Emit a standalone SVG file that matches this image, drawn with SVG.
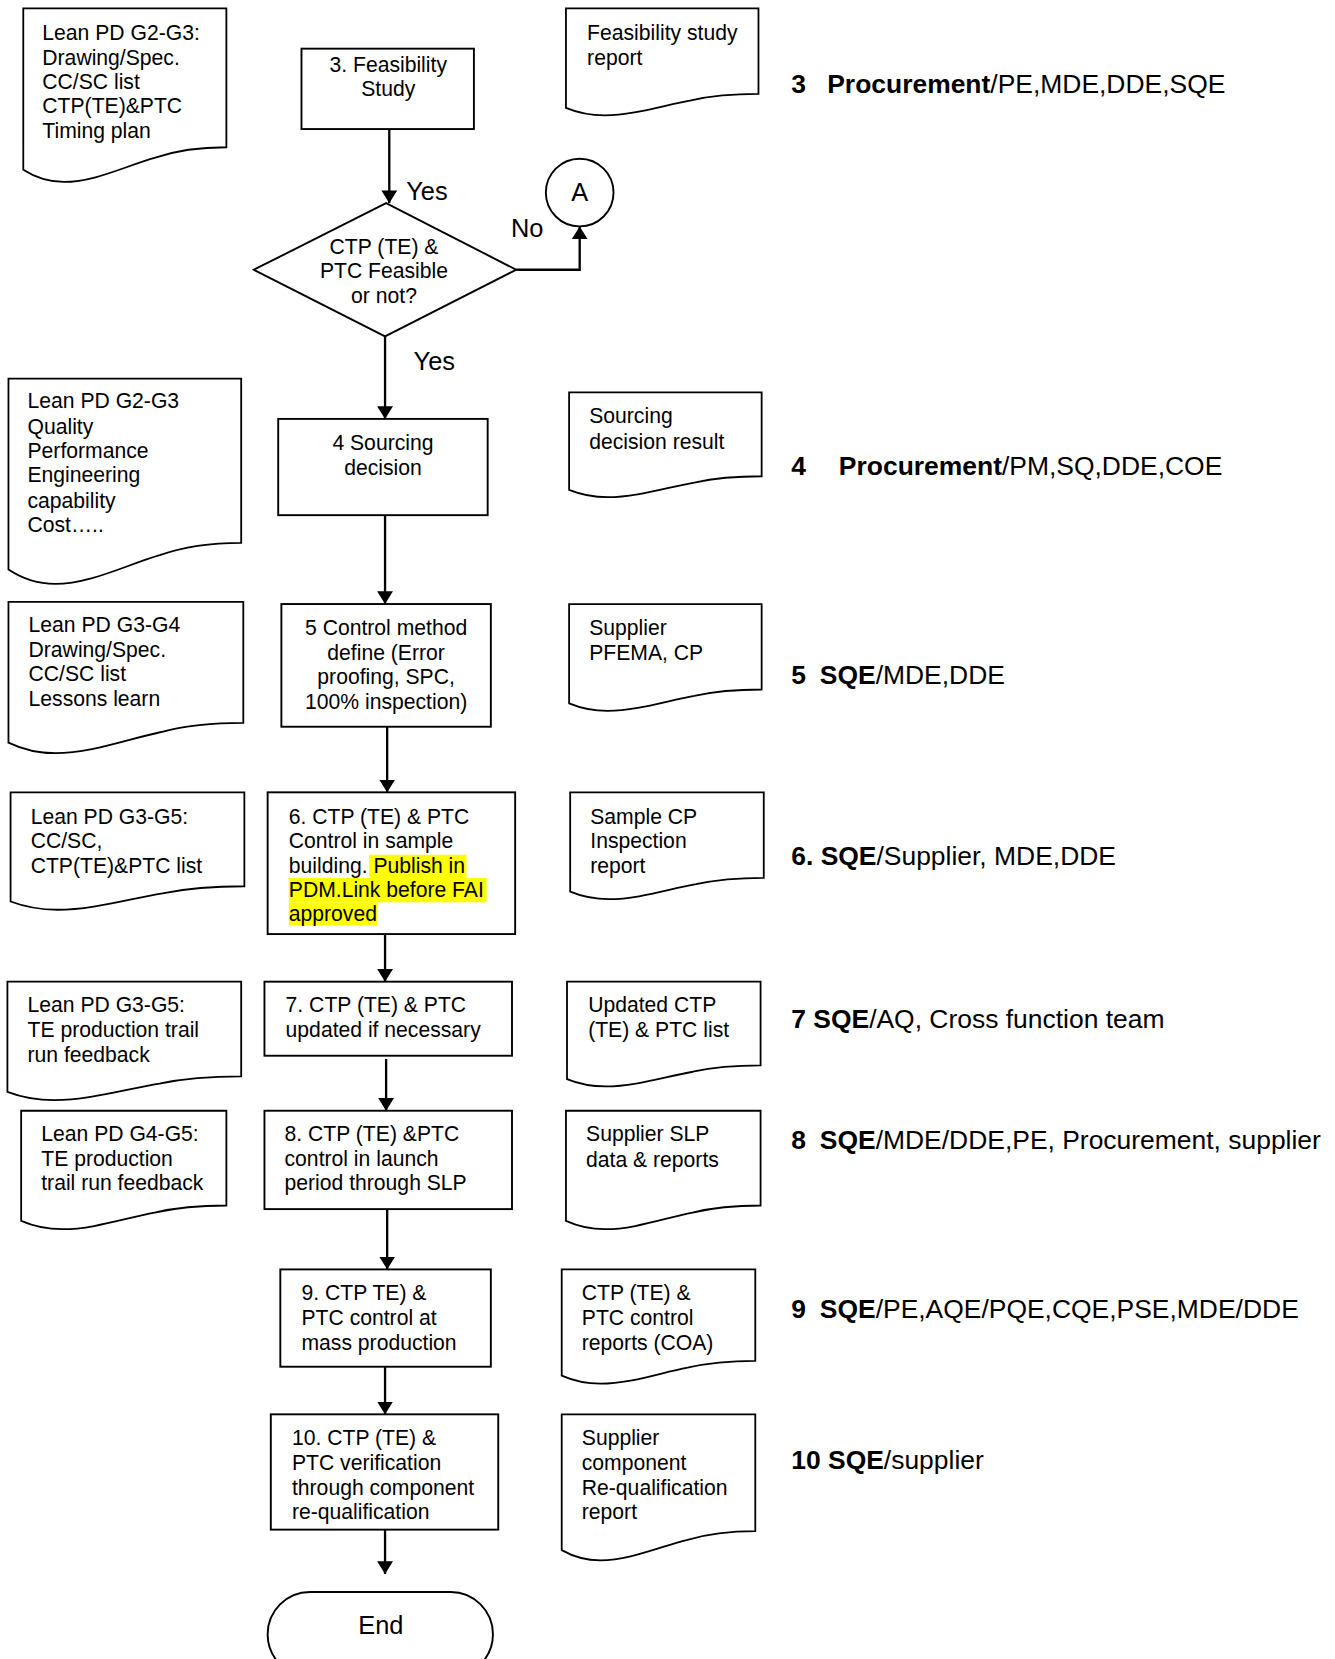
<svg xmlns="http://www.w3.org/2000/svg" xmlns:xlink="http://www.w3.org/1999/xlink" width="1335" height="1659" viewBox="0 0 1335 1659">
<style>
.doc{fill:#fff;stroke:#000;stroke-width:1.8}
.box{fill:#fff;stroke:#000;stroke-width:1.8}
.t{font-family:"Liberation Sans",Arial,sans-serif;font-size:20px;fill:#000}
.c{text-anchor:middle}
.lbl{font-family:"Liberation Sans",Arial,sans-serif;font-size:24px;fill:#000}
.r{font-family:"Liberation Sans",Arial,sans-serif;font-size:25px;fill:#000}
.b{font-weight:bold}
.con{fill:none;stroke:#000;stroke-width:2.2}
.hl{fill:#ffff00}
</style>
<defs>
<path id="docshape" d="M0,0 H1 V0.80 C0.85,0.80 0.75,0.82 0.65,0.86 C0.5,0.91 0.35,1.0 0.2,1.0 C0.12,1.0 0.06,0.975 0,0.93 Z" vector-effect="non-scaling-stroke"/>
<marker id="ah" viewBox="0 0 12 15" refX="12" refY="7.5" markerWidth="12" markerHeight="15" orient="auto" markerUnits="userSpaceOnUse">
<path d="M0,0 L12,7.5 L0,15 Z" fill="#000"/>
</marker>
</defs>
<rect width="1335" height="1659" fill="#fff"/>
<g transform="scale(1.05784)">

<g id="connectors">
<path class="con" d="M368,122 V192" marker-end="url(#ah)"/>
<path class="con" d="M488,255 H548 V214" marker-end="url(#ah)"/>
<path class="con" d="M364,318 V396" marker-end="url(#ah)"/>
<path class="con" d="M364,487 V571" marker-end="url(#ah)"/>
<path class="con" d="M366,687 V749" marker-end="url(#ah)"/>
<path class="con" d="M364,883 V928" marker-end="url(#ah)"/>
<path class="con" d="M365,1001 V1050" marker-end="url(#ah)"/>
<path class="con" d="M366,1143 V1200" marker-end="url(#ah)"/>
<path class="con" d="M364,1292 V1337" marker-end="url(#ah)"/>
<path class="con" d="M364,1446 V1488" marker-end="url(#ah)"/>
<text class="lbl" x="384" y="189">Yes</text>
<text class="lbl" x="483" y="224">No</text>
<text class="lbl" x="391" y="350">Yes</text>
</g>

<!-- Left documents -->
<g id="doc-l3">
<use xlink:href="#docshape" class="doc" transform="translate(22,8) scale(192,164)"/>
<text class="t" x="40" y="38">Lean PD G2-G3:</text>
<text class="t" x="40" y="61">Drawing/Spec.</text>
<text class="t" x="40" y="84">CC/SC list</text>
<text class="t" x="40" y="107">CTP(TE)&amp;PTC</text>
<text class="t" x="40" y="130">Timing plan</text>
</g>
<g id="doc-l4">
<use xlink:href="#docshape" class="doc" transform="translate(8,358) scale(220,194)"/>
<text class="t" x="26" y="386">Lean PD G2-G3</text>
<text class="t" x="26" y="410">Quality</text>
<text class="t" x="26" y="433">Performance</text>
<text class="t" x="26" y="456">Engineering</text>
<text class="t" x="26" y="480">capability</text>
<text class="t" x="26" y="503">Cost…..</text>
</g>
<g id="doc-l5">
<use xlink:href="#docshape" class="doc" transform="translate(8,569) scale(222,143)"/>
<text class="t" x="27" y="597">Lean PD G3-G4</text>
<text class="t" x="27" y="621">Drawing/Spec.</text>
<text class="t" x="27" y="644">CC/SC list</text>
<text class="t" x="27" y="667">Lessons learn</text>
</g>
<g id="doc-l6">
<use xlink:href="#docshape" class="doc" transform="translate(10,749) scale(221,111)"/>
<text class="t" x="29" y="779">Lean PD G3-G5:</text>
<text class="t" x="29" y="802">CC/SC,</text>
<text class="t" x="29" y="825">CTP(TE)&amp;PTC list</text>
</g>
<g id="doc-l7">
<use xlink:href="#docshape" class="doc" transform="translate(7,928) scale(221,112)"/>
<text class="t" x="26" y="957">Lean PD G3-G5:</text>
<text class="t" x="26" y="980">TE production trail</text>
<text class="t" x="26" y="1004">run feedback</text>
</g>
<g id="doc-l8">
<use xlink:href="#docshape" class="doc" transform="translate(20,1050) scale(194,112)"/>
<text class="t" x="39" y="1079">Lean PD G4-G5:</text>
<text class="t" x="39" y="1102">TE production</text>
<text class="t" x="39" y="1125">trail run feedback</text>
</g>

<!-- Process boxes -->
<g id="box3">
<rect class="box" x="285" y="46" width="163" height="76"/>
<text class="t c" x="367" y="68">3. Feasibility</text>
<text class="t c" x="367" y="91">Study</text>
</g>
<g id="decision">
<path class="box" d="M365,192 L488,255 L364,318 L240,255 Z"/>
<text class="t c" x="363" y="240">CTP (TE) &amp;</text>
<text class="t c" x="363" y="263">PTC Feasible</text>
<text class="t c" x="363" y="286">or not?</text>
</g>
<g id="connector-a">
<circle class="box" cx="548" cy="182" r="32"/>
<text class="lbl c" x="548" y="190">A</text>
</g>
<g id="box4">
<rect class="box" x="263" y="396" width="198" height="91"/>
<text class="t c" x="362" y="425">4 Sourcing</text>
<text class="t c" x="362" y="449">decision</text>
</g>
<g id="box5">
<rect class="box" x="266" y="571" width="198" height="116"/>
<text class="t c" x="365" y="600">5 Control method</text>
<text class="t c" x="365" y="624">define (Error</text>
<text class="t c" x="365" y="647">proofing, SPC,</text>
<text class="t c" x="365" y="670">100% inspection)</text>
</g>
<g id="box6">
<rect class="box" x="253" y="749" width="234" height="134"/>
<rect class="hl" x="349" y="808" width="92" height="22"/>
<rect class="hl" x="273" y="830" width="187" height="23"/>
<rect class="hl" x="273" y="853" width="84" height="22"/>
<text class="t" x="273" y="779">6. CTP (TE) &amp; PTC</text>
<text class="t" x="273" y="802">Control in sample</text>
<text class="t" x="273" y="825">building. Publish in</text>
<text class="t" x="273" y="848">PDM.Link before FAI</text>
<text class="t" x="273" y="871">approved</text>
</g>
<g id="box7">
<rect class="box" x="250" y="928" width="234" height="70"/>
<text class="t" x="270" y="957">7. CTP (TE) &amp; PTC</text>
<text class="t" x="270" y="980">updated if necessary</text>
</g>
<g id="box8">
<rect class="box" x="250" y="1050" width="234" height="93"/>
<text class="t" x="269" y="1079">8. CTP (TE) &amp;PTC</text>
<text class="t" x="269" y="1102">control in launch</text>
<text class="t" x="269" y="1125">period through SLP</text>
</g>
<g id="box9">
<rect class="box" x="265" y="1200" width="199" height="92"/>
<text class="t" x="285" y="1229">9. CTP TE) &amp;</text>
<text class="t" x="285" y="1253">PTC control at</text>
<text class="t" x="285" y="1276">mass production</text>
</g>
<g id="box10">
<rect class="box" x="256" y="1337" width="215" height="109"/>
<text class="t" x="276" y="1366">10. CTP (TE) &amp;</text>
<text class="t" x="276" y="1390">PTC verification</text>
<text class="t" x="276" y="1413">through component</text>
<text class="t" x="276" y="1436">re-qualification</text>
</g>
<g id="end">
<rect class="box" x="253" y="1505" width="213" height="80" rx="40" ry="40"/>
<text class="lbl c" x="360" y="1545">End</text>
</g>

<!-- Right documents -->
<g id="doc-r3">
<use xlink:href="#docshape" class="doc" transform="translate(535,8) scale(182,101)"/>
<text class="t" x="555" y="38">Feasibility study</text>
<text class="t" x="555" y="61">report</text>
</g>
<g id="doc-r4">
<use xlink:href="#docshape" class="doc" transform="translate(538,371) scale(182,99)"/>
<text class="t" x="557" y="400">Sourcing</text>
<text class="t" x="557" y="424">decision result</text>
</g>
<g id="doc-r5">
<use xlink:href="#docshape" class="doc" transform="translate(538,571) scale(182,101)"/>
<text class="t" x="557" y="600">Supplier</text>
<text class="t" x="557" y="624">PFEMA, CP</text>
</g>
<g id="doc-r6">
<use xlink:href="#docshape" class="doc" transform="translate(539,749) scale(183,101)"/>
<text class="t" x="558" y="779">Sample CP</text>
<text class="t" x="558" y="802">Inspection</text>
<text class="t" x="558" y="825">report</text>
</g>
<g id="doc-r7">
<use xlink:href="#docshape" class="doc" transform="translate(536,928) scale(183,99)"/>
<text class="t" x="556" y="957">Updated CTP</text>
<text class="t" x="556" y="980">(TE) &amp; PTC list</text>
</g>
<g id="doc-r8">
<use xlink:href="#docshape" class="doc" transform="translate(535,1050) scale(184,112)"/>
<text class="t" x="554" y="1079">Supplier SLP</text>
<text class="t" x="554" y="1103">data &amp; reports</text>
</g>
<g id="doc-r9">
<use xlink:href="#docshape" class="doc" transform="translate(531,1200) scale(183,108)"/>
<text class="t" x="550" y="1229">CTP (TE) &amp;</text>
<text class="t" x="550" y="1253">PTC control</text>
<text class="t" x="550" y="1276">reports (COA)</text>
</g>
<g id="doc-r10">
<use xlink:href="#docshape" class="doc" transform="translate(531,1337) scale(183,138)"/>
<text class="t" x="550" y="1366">Supplier</text>
<text class="t" x="550" y="1390">component</text>
<text class="t" x="550" y="1413">Re-qualification</text>
<text class="t" x="550" y="1436">report</text>
</g>

<!-- Responsibility labels -->
<g id="resp-3"><text class="r" y="88"><tspan class="b" x="748">3</tspan><tspan class="b" x="782">Procurement</tspan>/PE,MDE,DDE,SQE</text></g>
<g id="resp-4"><text class="r" y="449"><tspan class="b" x="748">4</tspan><tspan class="b" x="793">Procurement</tspan>/PM,SQ,DDE,COE</text></g>
<g id="resp-5"><text class="r" y="647"><tspan class="b" x="748">5</tspan><tspan class="b" x="775">SQE</tspan>/MDE,DDE</text></g>
<g id="resp-6"><text class="r" x="748" y="818"><tspan class="b">6. SQE</tspan>/Supplier, MDE,DDE</text></g>
<g id="resp-7"><text class="r" x="748" y="972"><tspan class="b">7 SQE</tspan>/AQ, Cross function team</text></g>
<g id="resp-8"><text class="r" y="1086"><tspan class="b" x="748">8</tspan><tspan class="b" x="775">SQE</tspan>/MDE/DDE,PE, Procurement, supplier</text></g>
<g id="resp-9"><text class="r" y="1246"><tspan class="b" x="748">9</tspan><tspan class="b" x="775">SQE</tspan>/PE,AQE/PQE,CQE,PSE,MDE/DDE</text></g>
<g id="resp-10"><text class="r" x="748" y="1389"><tspan class="b">10 SQE</tspan>/supplier</text></g>

</g>
</svg>
